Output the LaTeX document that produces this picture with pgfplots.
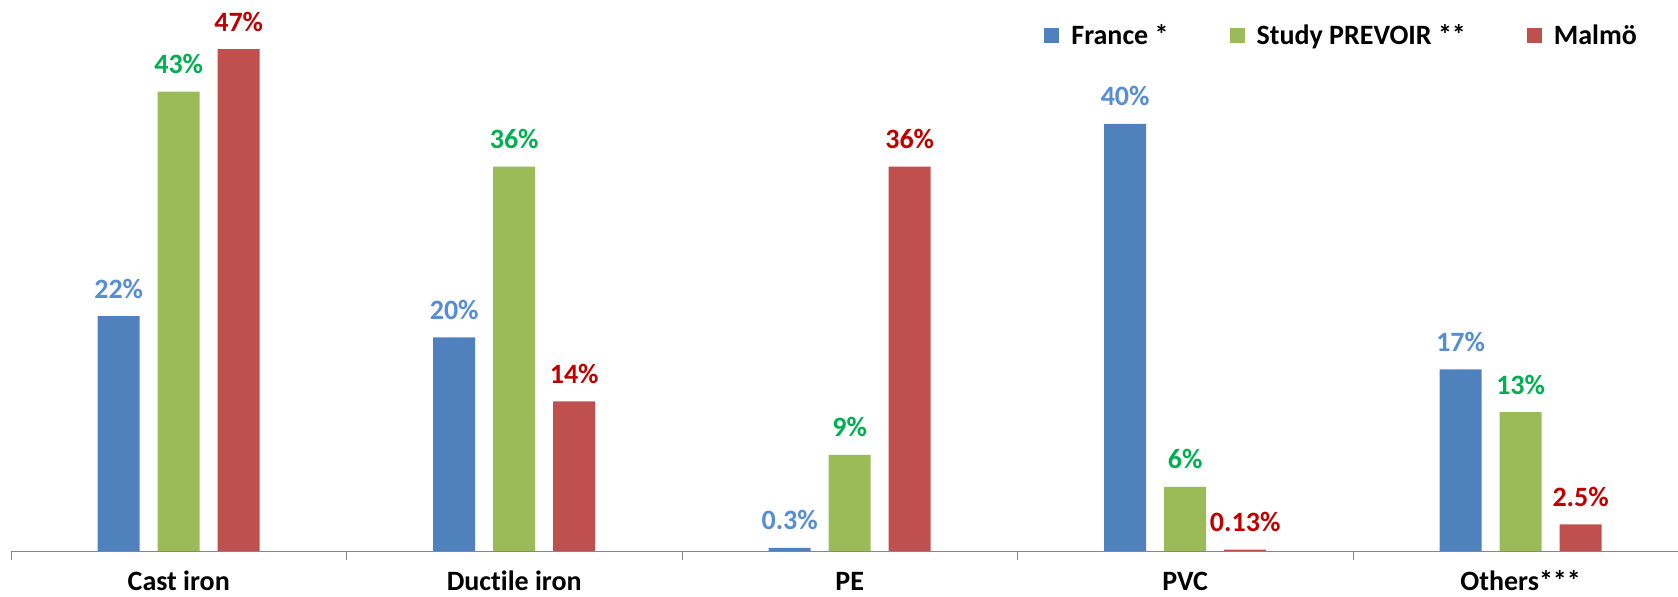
\documentclass[border=0pt]{standalone}
\usepackage{fontspec}
\setmainfont{Carlito}[Ligatures=NoCommon]
\usepackage{pgfplots}
\pgfplotsset{compat=1.18}
\definecolor{barblue}{HTML}{4F81BD}
\definecolor{bargreen}{HTML}{9BBB59}
\definecolor{barred}{HTML}{C0504D}
\definecolor{lblblue}{HTML}{558ED5}
\definecolor{lblgreen}{HTML}{00B050}
\definecolor{lblred}{HTML}{C00000}
\definecolor{axisgray}{HTML}{868686}
\newcommand{\chartfont}{\fontsize{14}{17}\selectfont\bfseries}
\begin{document}
\begin{tikzpicture}
\begin{axis}[
    scale only axis,
    width=833.5pt, height=267pt,
    ybar=9pt, bar width=21pt,
    xmin=-0.5, xmax=4.469, ymin=0, ymax=50,
    axis y line=none, axis x line*=bottom,
    x axis line style={-, draw=axisgray},
    xtick={0,1,2,3,4},
    xticklabels={Cast iron, Ductile iron, PE, PVC, Others***},
    major tick length=0pt,
    extra x ticks={-0.5,0.5,1.5,2.5,3.5},
    extra x tick labels={},
    extra x tick style={major tick length=4.5pt, tick align=outside, tick style={draw=axisgray}},
    xticklabel style={font=\chartfont, anchor=base, yshift=-20pt},
    nodes near coords={\pgfmathprintnumber[assume math mode=true]{\pgfplotspointmeta}\%},
    every node near coord/.append style={font=\chartfont, anchor=base, yshift=9pt},
    legend columns=3,
    legend style={at={(0.6197,0.965)}, anchor=west, draw=none, fill=none,
        font=\chartfont, inner sep=0pt,
        /tikz/every odd column/.append style={column sep=4pt},
        /tikz/every even column/.append style={column sep=28.5pt}},
    legend image code/.code={\fill[#1] (0pt,-3.75pt) rectangle (7.5pt,3.75pt);},
    clip=false,
]
\addplot[draw=none, fill=barblue, every node near coord/.append style={text=lblblue}]
    coordinates {(0,22) (1,20) (2,0.3) (3,40) (4,17)};
\addplot[draw=none, fill=bargreen, every node near coord/.append style={text=lblgreen}]
    coordinates {(0,43) (1,36) (2,9) (3,6) (4,13)};
\addplot[draw=none, fill=barred, every node near coord/.append style={text=lblred}]
    coordinates {(0,47) (1,14) (2,36) (3,0.13) (4,2.5)};
\legend{France *, Study PREVOIR **, Malmö}
\coordinate (sw) at (rel axis cs:0,0);
\end{axis}
\pgfresetboundingbox
\path[use as bounding box] (sw) ++(-5.5pt,-23pt) rectangle ++(839pt,298.5pt);
\end{tikzpicture}
\end{document}
